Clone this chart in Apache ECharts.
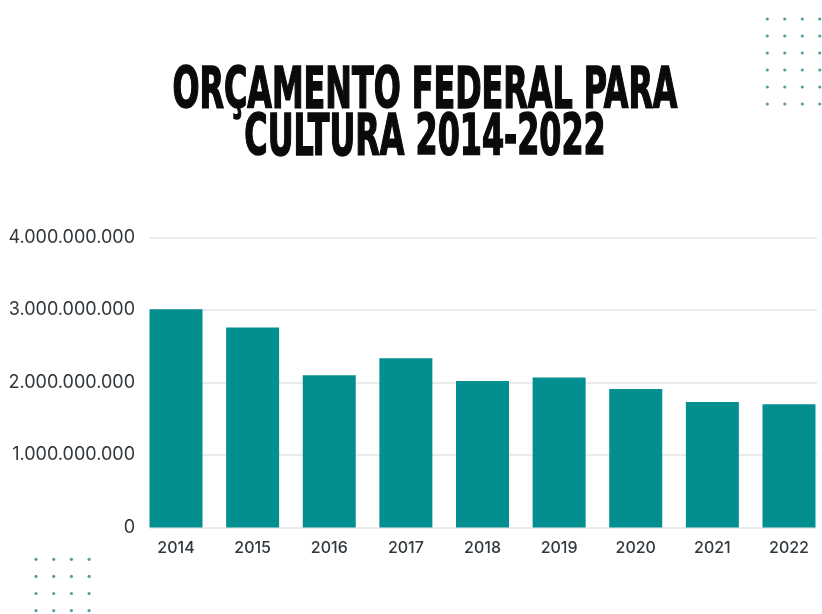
<!DOCTYPE html>
<html>
<head>
<meta charset="utf-8">
<script src="https://cdn.jsdelivr.net/npm/echarts@6/dist/echarts.min.js"></script>
<style>
  html, body { margin: 0; padding: 0; background: #ffffff; overflow: hidden; }
  #chart { width: 832px; height: 614px; }
</style>
</head>
<body>
<div id="chart"></div>
<script>
// Orçamento federal para cultura, em reais
const years = ['2014', '2015', '2016', '2017', '2018', '2019', '2020', '2021', '2022'];
const budget = [3010000000, 2760000000, 2100000000, 2335000000, 2020000000, 2070000000, 1910000000, 1730000000, 1700000000];
const yTicks = [0, 1000000000, 2000000000, 3000000000, 4000000000];

const titleLines = ['ORÇAMENTO FEDERAL PARA', 'CULTURA 2014-2022'];

const teal = '#038f90';
const dotColor = '#5a9aa6';

function fmt(v) {
  return String(v).replace(/\B(?=(\d{3})+(?!\d))/g, '.');
}

// decorative dot grids
function dotGrid(x0, y0, cols, rows, dx, dy) {
  const out = [];
  for (let r = 0; r < rows; r++) {
    for (let c = 0; c < cols; c++) {
      out.push({
        type: 'circle',
        shape: { cx: x0 + c * dx, cy: y0 + r * dy, r: 1.6 },
        style: { fill: dotColor },
        silent: true
      });
    }
  }
  return out;
}

const chart = echarts.init(document.getElementById('chart'), null, { renderer: 'canvas' });

const yMax = yTicks[yTicks.length - 1];
const yStep = yTicks[1] - yTicks[0];

chart.setOption({
  backgroundColor: '#ffffff',
  animation: false,
  grid: [
    // gridlines + value labels
    { left: 150, width: 667, top: 237.5, bottom: 86.5 },
    // bars: band area slightly wider than the gridlines
    { left: 137.7, width: 689.6, top: 237.5, bottom: 86.5 }
  ],
  xAxis: [
    { type: 'category', gridIndex: 0, data: years, show: false },
    {
      type: 'category', gridIndex: 1, data: years,
      axisLine: { show: false },
      axisTick: { show: false },
      axisLabel: { color: '#30383d', fontSize: 16, fontWeight: 500, fontFamily: 'Inter', margin: 13 }
    }
  ],
  yAxis: [
    {
      type: 'value', gridIndex: 0, min: 0, max: yMax, interval: yStep,
      axisLine: { show: false },
      axisTick: { show: false },
      splitLine: { lineStyle: { color: '#e4e4e4', width: 1.5 } },
      axisLabel: {
        color: '#30383d', fontSize: 18, fontFamily: 'Inter', margin: 15,
        formatter: v => fmt(v)
      }
    },
    {
      type: 'value', gridIndex: 1, min: 0, max: yMax, interval: yStep,
      show: false, splitLine: { show: false }
    }
  ],
  series: [
    {
      type: 'bar',
      xAxisIndex: 1, yAxisIndex: 1,
      data: budget,
      barWidth: 53,
      itemStyle: { color: teal }
    }
  ],
  graphic: [
    {
      type: 'text',
      x: 425,
      y: 70,
      scaleX: 0.62,
      style: {
        text: titleLines.join('\n'),
        font: 'bold 57px "DejaVu Sans Condensed", sans-serif',
        fill: '#0a0a0a',
        stroke: '#0a0a0a',
        lineWidth: 1.6,
        align: 'center',
        verticalAlign: 'top',
        lineHeight: 47
      }
    },
    ...dotGrid(767.3, 19, 4, 6, 17.5, 17),
    ...dotGrid(36, 559.3, 4, 4, 17.7, 17.1)
  ]
});
</script>
</body>
</html>
